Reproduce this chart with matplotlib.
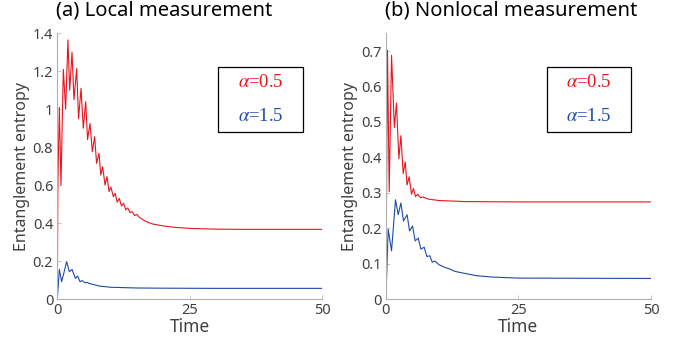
import matplotlib.pyplot as plt
from matplotlib.patches import Rectangle

plt.rcParams['font.family'] = ['Noto Sans', 'DejaVu Sans']
plt.rcParams['mathtext.fontset'] = 'stix'

red = '#e8141e'
blue = '#1f4aa6'
grey = '#404040'

# (a) local measurement, alpha = 0.5
ta_r = [0, 0.1, 0.38, 0.69, 1.13, 1.57, 2.0, 2.33, 2.77, 3.14, 3.65, 4.0, 4.47, 4.9, 5.35, 5.7,
        6.16, 6.6, 7.04, 7.4, 7.86, 8.2, 8.55, 9.0, 9.37, 9.75, 10.1, 10.57, 10.9, 11.3, 11.7,
        12.1, 12.5, 12.9, 13.3, 13.7, 14.1, 14.6, 15.0, 15.5, 16, 17, 18, 20, 22, 25, 30, 35, 40, 50]
sa_r = [0, 0.6, 1.01, 0.6, 1.21, 1.0, 1.365, 1.10, 1.30, 1.05, 1.215, 0.95, 1.11, 0.90, 1.04, 0.84,
        0.925, 0.776, 0.855, 0.715, 0.768, 0.653, 0.697, 0.60, 0.645, 0.566, 0.59, 0.539, 0.557, 0.51, 0.53,
        0.49, 0.505, 0.47, 0.48, 0.455, 0.46, 0.44, 0.445, 0.43, 0.42, 0.405, 0.395, 0.385, 0.378, 0.372, 0.368, 0.367, 0.367, 0.367]
# (a) local measurement, alpha = 1.5
ta_b = [0, 0.38, 0.82, 1.76, 2.26, 2.77, 3.4, 3.84, 4.28, 4.7, 5.2, 5.6, 6, 7, 8, 10, 15, 20, 30, 50]
sa_b = [0, 0.156, 0.091, 0.197, 0.144, 0.156, 0.109, 0.121, 0.091, 0.097, 0.085, 0.088, 0.082, 0.075, 0.068, 0.062, 0.058, 0.057, 0.056, 0.056]

# (b) nonlocal measurement, alpha = 0.5
tb_r = [0, 0.31, 0.63, 1.07, 1.6, 2.0, 2.45, 2.83, 3.27, 3.65, 4.0, 4.4, 4.84, 5.2, 5.6, 6.0,
        6.5, 7, 8, 10, 15, 25, 50]
sb_r = [0, 0.702, 0.303, 0.688, 0.484, 0.553, 0.396, 0.461, 0.354, 0.387, 0.322, 0.345, 0.296, 0.312, 0.289, 0.296,
        0.286, 0.288, 0.282, 0.278, 0.275, 0.274, 0.274]
# (b) nonlocal measurement, alpha = 1.5
tb_b = [0, 0.44, 1.07, 1.82, 2.33, 2.83, 3.33, 4.0, 4.47, 5.03, 5.53, 6.1, 6.6, 7.23, 7.74, 8.3, 8.74,
        9.25, 10, 11, 12, 13, 15, 17, 20, 25, 50]
sb_b = [0, 0.197, 0.136, 0.28, 0.238, 0.271, 0.22, 0.238, 0.192, 0.206, 0.164, 0.172, 0.141, 0.146, 0.12, 0.122, 0.104,
        0.107, 0.097, 0.09, 0.085, 0.078, 0.072, 0.066, 0.062, 0.059, 0.058]

xticks = [0, 25, 50]
yticks_a = [0, 0.2, 0.4, 0.6, 0.8, 1, 1.2, 1.4]
ylabels_a = ['0', '0.2', '0.4', '0.6', '0.8', '1', '1.2', '1.4']
yticks_b = [0, 0.1, 0.2, 0.3, 0.4, 0.5, 0.6, 0.7]
ylabels_b = ['0', '0.1', '0.2', '0.3', '0.4', '0.5', '0.6', '0.7']

fig = plt.figure(figsize=(6.94, 3.48), dpi=100)
axa = fig.add_axes([0.0826, 0.1408, 0.382, 0.7635])
axb = fig.add_axes([0.556, 0.1408, 0.382, 0.7635])

panels = [
    (axa, ta_r, sa_r, ta_b, sa_b, (0, 1.4), yticks_a, ylabels_a, '(a) Local measurement'),
    (axb, tb_r, sb_r, tb_b, sb_b, (0, 0.75), yticks_b, ylabels_b, '(b) Nonlocal measurement'),
]

for ax, tr, sr, tb, sb, ylim, yt, yl, title in panels:
    ax.plot(tr, sr, color=red, lw=0.8)
    ax.plot(tb, sb, color=blue, lw=0.8)
    ax.set_xlim(0, 50)
    ax.set_ylim(*ylim)
    ax.set_xticks(xticks)
    ax.set_xticklabels([str(v) for v in xticks])
    ax.set_yticks(yt)
    ax.set_yticklabels(yl)
    for s in ['top', 'right']:
        ax.spines[s].set_visible(False)
    for s in ['left', 'bottom']:
        ax.spines[s].set_color('#b0b0b0')
        ax.spines[s].set_linewidth(0.8)
    ax.tick_params(direction='in', length=3, width=0.6, color='#c0c0c0',
                   labelsize=10.5, labelcolor=grey, pad=3)
    ax.set_xlabel('Time', fontsize=12.5, color=grey, labelpad=0)
    ax.set_ylabel('Entanglement entropy', fontsize=11.5, color=grey, labelpad=2)
    ax.set_title(title, fontsize=14.5, loc='left', pad=13, x=-0.005)

    ax.add_patch(Rectangle((0.607, 0.628), 0.318, 0.245, transform=ax.transAxes,
                           fill=False, edgecolor='black', lw=0.9, clip_on=False))
    ax.text(0.766, 0.815, r'$\alpha$=0.5', transform=ax.transAxes, color=red,
            ha='center', va='center', fontsize=13.5, family='Liberation Serif')
    ax.text(0.766, 0.685, r'$\alpha$=1.5', transform=ax.transAxes, color=blue,
            ha='center', va='center', fontsize=13.5, family='Liberation Serif')

fig.savefig('out.png', dpi=100)
